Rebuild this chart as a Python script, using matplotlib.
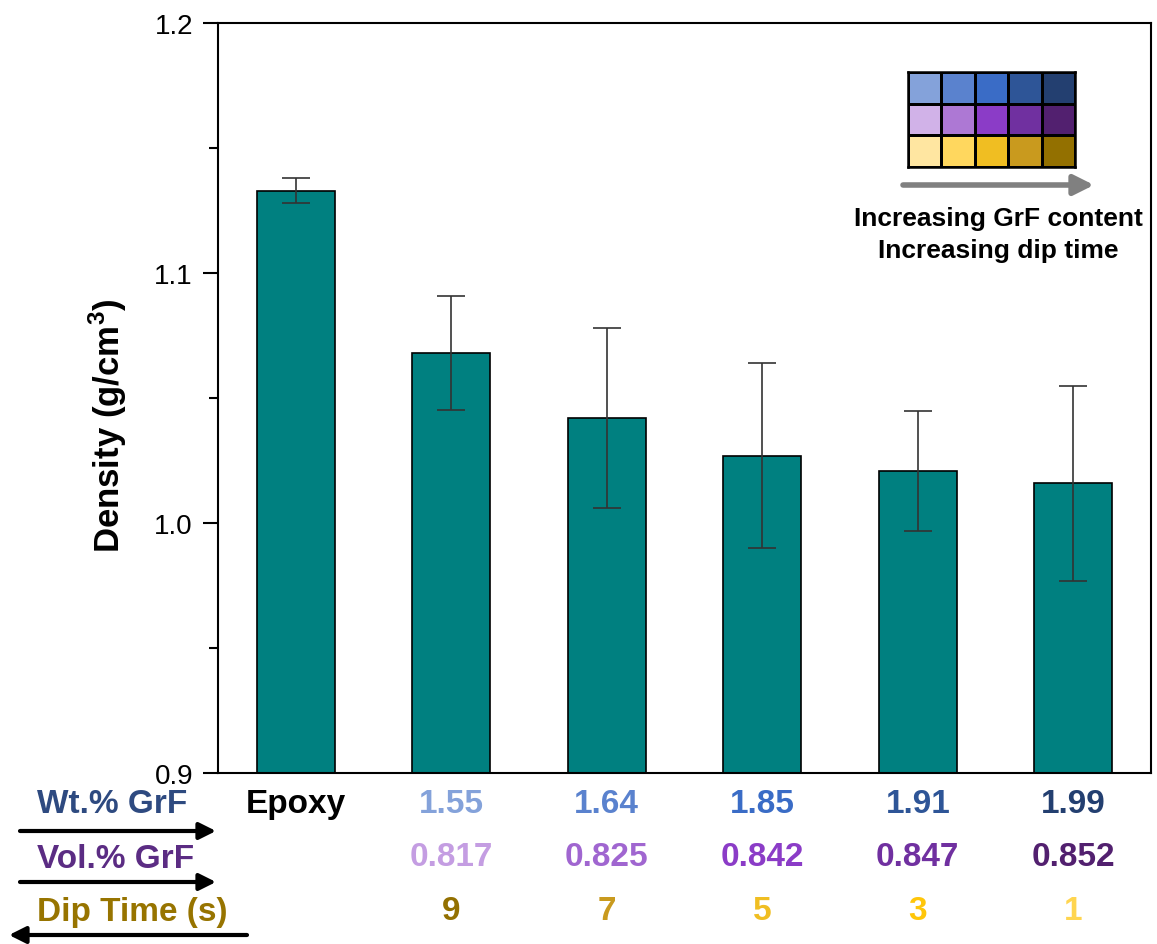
import matplotlib
matplotlib.use("Agg")
import matplotlib.pyplot as plt
from matplotlib.colors import ListedColormap
import numpy as np

plt.rcParams['font.family'] = ['Liberation Sans', 'DejaVu Sans']
plt.rcParams['mathtext.fontset'] = 'custom'
plt.rcParams['mathtext.rm'] = 'Liberation Sans'
plt.rcParams['mathtext.bf'] = 'Liberation Sans:bold'

# data
samples = ['Epoxy', '1', '2', '3', '4', '5']
density = [1.133, 1.068, 1.042, 1.027, 1.021, 1.016]
density_err = [0.005, 0.023, 0.036, 0.037, 0.024, 0.039]
wt_grf = ['1.55', '1.64', '1.85', '1.91', '1.99']
vol_grf = ['0.817', '0.825', '0.842', '0.847', '0.852']
dip_time = ['9', '7', '5', '3', '1']

# colour scale (light -> dark)
blues = ['#84A2DA', '#5A82CE', '#3A6CC6', '#2E5597', '#233F70']
purples = ['#D1B2E8', '#AD78D4', '#8B3CC7', '#7030A0', '#52206F']
golds = ['#FFE6A1', '#FFD75E', '#F0BE22', '#C99A1E', '#937000']
vol_cols = ['#C49DE2', '#A066D0', '#8B3CC7', '#7030A0', '#52206F']
dip_cols = ['#937000', '#C99A1E', '#F0BE22', '#FFC60A', '#FFD54F']

W, H = 1157, 945
fig = plt.figure(figsize=(W / 100, H / 100), dpi=100)
ax = fig.add_axes([218 / W, 1 - 774 / H, 933 / W, 750 / H])

x = np.arange(len(samples))
ax.bar(x, density, width=0.5, color='#008080', edgecolor='black', linewidth=1.2, zorder=2)
ax.errorbar(x, density, yerr=density_err, fmt='none', ecolor='#333333',
            elinewidth=1.2, capsize=10, capthick=1.2, zorder=3)

ax.set_xlim(-0.5, 5.5)
ax.set_ylim(0.9, 1.2)
ax.set_yticks([0.9, 1.0, 1.1, 1.2])
ax.set_yticklabels(['0.9', '1.0', '1.1', '1.2'])
ax.set_yticks([0.95, 1.05, 1.15], minor=True)
ax.set_xticks([])
ax.tick_params(axis='y', which='major', direction='out', length=11, width=1.5,
               labelsize=20, pad=7)
ax.tick_params(axis='y', which='minor', direction='out', length=6.5, width=1.5)
for s in ax.spines.values():
    s.set_linewidth(1.5)

ax.set_ylabel(r'Density (g/cm$^{\mathbf{3}}$)', fontsize=25, fontweight='bold')
ax.yaxis.set_label_coords(-0.095, 0.465)

# labels under the bars
trans = ax.get_xaxis_transform()
ax.text(0, -0.041, samples[0], transform=trans, ha='center', va='center',
        fontsize=24, fontweight='bold', color='black', clip_on=False)
for i in range(5):
    ax.text(x[i + 1], -0.041, wt_grf[i], transform=trans, ha='center', va='center',
            fontsize=24, fontweight='bold', color=blues[i], clip_on=False)
    ax.text(x[i + 1], -0.112, vol_grf[i], transform=trans, ha='center', va='center',
            fontsize=24, fontweight='bold', color=vol_cols[i], clip_on=False)
    ax.text(x[i + 1], -0.184, dip_time[i], transform=trans, ha='center', va='center',
            fontsize=24, fontweight='bold', color=dip_cols[i], clip_on=False)

# row headers with arrows
fig.text(112 / W, 1 - 805 / H, 'Wt.% GrF', ha='center', va='center',
         fontsize=24, fontweight='bold', color='#2E4A80')
fig.text(116 / W, 1 - 860 / H, 'Vol.% GrF', ha='center', va='center',
         fontsize=24, fontweight='bold', color='#5B2C83')
fig.text(132 / W, 1 - 913 / H, 'Dip Time (s)', ha='center', va='center',
         fontsize=24, fontweight='bold', color='#977400')

arr = dict(arrowstyle='-|>', color='black', lw=3, mutation_scale=25,
           shrinkA=0, shrinkB=0)
fig.add_artist(plt.Annotation('', xy=(216 / W, 1 - 832 / H), xytext=(20 / W, 1 - 832 / H),
                              xycoords='figure fraction', arrowprops=arr))
fig.add_artist(plt.Annotation('', xy=(216 / W, 1 - 883 / H), xytext=(20 / W, 1 - 883 / H),
                              xycoords='figure fraction', arrowprops=arr))
fig.add_artist(plt.Annotation('', xy=(9 / W, 1 - 936 / H), xytext=(247 / W, 1 - 936 / H),
                              xycoords='figure fraction', arrowprops=arr))

# colour key in the corner
key = fig.add_axes([908 / W, 1 - 168 / H, 167 / W, 95 / H])
cells = np.arange(15).reshape(3, 5)
key.pcolormesh(cells, cmap=ListedColormap(blues + purples + golds),
               edgecolors='black', linewidth=1.0)
key.set_xlim(0, 5)
key.set_ylim(3, 0)
key.set_xticks([])
key.set_yticks([])
for s in key.spines.values():
    s.set_linewidth(1.8)

fig.add_artist(plt.Annotation('', xy=(1094 / W, 1 - 186 / H), xytext=(903 / W, 1 - 186 / H),
                              xycoords='figure fraction',
                              arrowprops=dict(arrowstyle='-|>', color='#808080', lw=4,
                                              mutation_scale=30, shrinkA=0, shrinkB=0)))
fig.text(998 / W, 1 - 219 / H, 'Increasing GrF content', ha='center', va='center',
         fontsize=19, fontweight='bold')
fig.text(998 / W, 1 - 251 / H, 'Increasing dip time', ha='center', va='center',
         fontsize=19, fontweight='bold')

fig.savefig('out.png', dpi=100)
